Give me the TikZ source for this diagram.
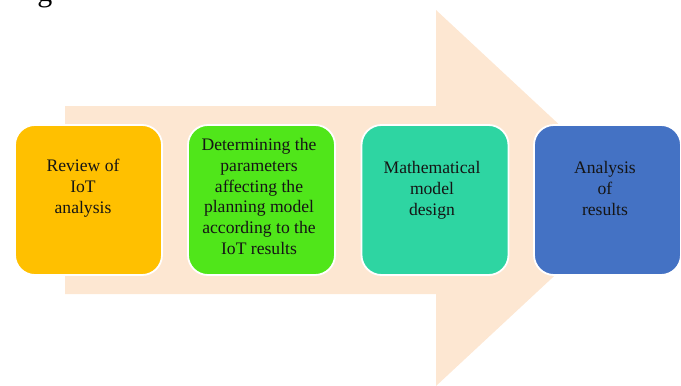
\documentclass[tikz,border=0pt]{standalone}
\usepackage{fontspec}
\setmainfont{Liberation Serif}
\definecolor{peach}{HTML}{FDE7D2}
\definecolor{boxA}{HTML}{FFC000}
\definecolor{boxB}{HTML}{50E61A}
\definecolor{boxC}{HTML}{2ED5A2}
\definecolor{boxD}{HTML}{4472C4}
\definecolor{ink}{HTML}{151515}
\begin{document}
\begin{tikzpicture}[x=1pt,y=-1pt,
  stepbox/.style={rounded corners=20pt, draw=white, line width=1.8pt,
    minimum width=147pt, minimum height=150pt, inner sep=0pt},
  steptext/.style={align=center, text=ink, inner sep=0pt,
    font=\fontsize{17.6}{20.8}\selectfont, anchor=north}]
\useasboundingbox (0,0) rectangle (681,386);
% partial caption glyph at top edge
\begin{scope}
  \clip (0,0) rectangle (681,386);
  \node[anchor=base, inner sep=0pt, font=\fontsize{30}{30}\selectfont] (cap) at (45,1.5) {g};
\end{scope}
% big background arrow
\fill[peach] (65,106) -- (436,106) -- (436,10) -- (638,198) -- (436,386)
  -- (436,294) -- (65,294) -- cycle;
% boxes
\node[stepbox, fill=boxA] (b1) at (88.5,200) {};
\node[stepbox, fill=boxB] (b2) at (261.5,200) {};
\node[stepbox, fill=boxC] (b3) at (435,200) {};
\node[stepbox, fill=boxD] (b4) at (607.5,200) {};
% texts
\node[steptext] (t1) at (83,159) {Review of\\IoT\\analysis};
\node[steptext] (t2) at (259,138) {Determining the\\parameters\\affecting the\\planning model\\according to the\\IoT results};
\node[steptext] (t3) at (432,161) {Mathematical\\model\\design};
\node[steptext] (t4) at (605,161) {Analysis\\of\\results};
\end{tikzpicture}
\end{document}
